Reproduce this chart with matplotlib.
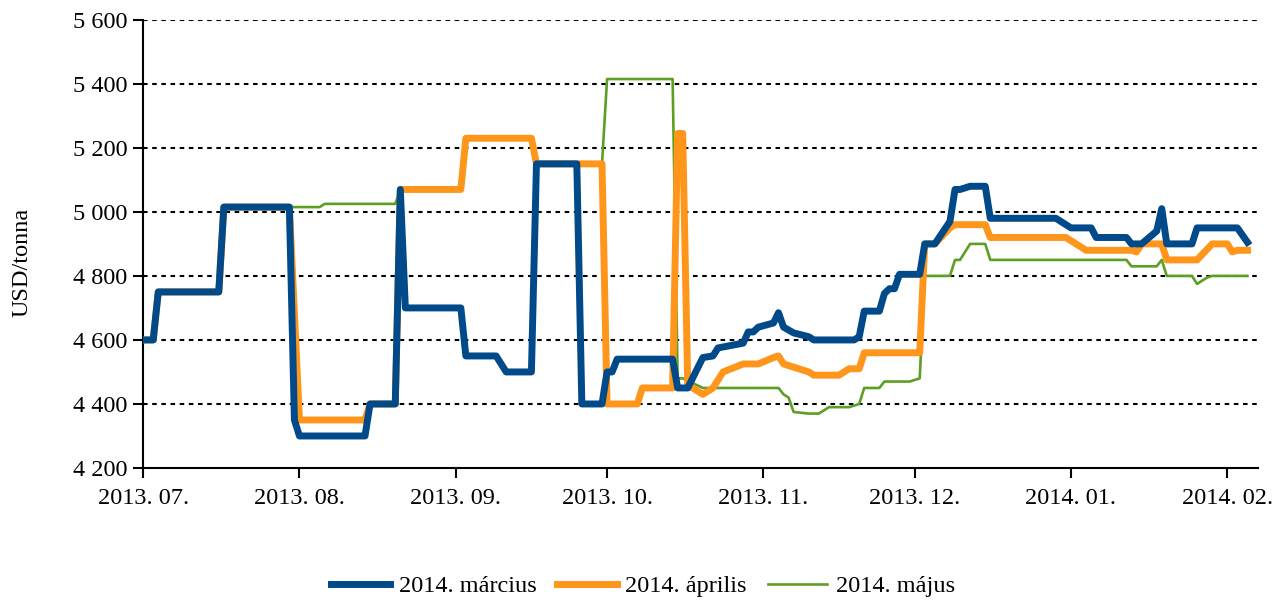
import numpy as np
import pandas as pd
import matplotlib
matplotlib.use("Agg")
import matplotlib.pyplot as plt

# Árfolyamok (USD/tonna) – töréspontok dátum szerint
marc_dates = ["2013-07-01", "2013-07-03", "2013-07-04", "2013-07-16", "2013-07-17", "2013-07-30",
              "2013-07-31", "2013-08-01", "2013-08-14", "2013-08-15", "2013-08-20", "2013-08-21",
              "2013-08-22", "2013-09-02", "2013-09-03", "2013-09-09", "2013-09-11", "2013-09-16",
              "2013-09-17", "2013-09-25", "2013-09-26", "2013-09-30", "2013-10-01", "2013-10-02",
              "2013-10-03", "2013-10-14", "2013-10-15", "2013-10-17", "2013-10-20", "2013-10-22",
              "2013-10-23", "2013-10-28", "2013-10-29", "2013-10-30", "2013-10-31", "2013-11-03",
              "2013-11-04", "2013-11-05", "2013-11-07", "2013-11-10", "2013-11-11", "2013-11-19",
              "2013-11-20", "2013-11-21", "2013-11-24", "2013-11-25", "2013-11-26", "2013-11-27",
              "2013-11-28", "2013-12-02", "2013-12-03", "2013-12-05", "2013-12-08", "2013-12-09",
              "2013-12-10", "2013-12-12", "2013-12-15", "2013-12-16", "2013-12-29", "2014-01-01",
              "2014-01-05", "2014-01-06", "2014-01-12", "2014-01-13", "2014-01-15", "2014-01-18",
              "2014-01-19", "2014-01-20", "2014-01-25", "2014-01-26", "2014-02-03", "2014-02-05"]
marc_vals = [4600, 4600, 4750, 4750, 5015, 5015,
             4350, 4300, 4300, 4400, 4400, 5070,
             4700, 4700, 4550, 4550, 4500, 4500,
             5150, 5150, 4400, 4400, 4500, 4500,
             4540, 4540, 4450, 4450, 4545, 4550,
             4575, 4590, 4625, 4625, 4640, 4653,
             4685, 4640, 4622, 4610, 4600, 4600,
             4610, 4690, 4690, 4745, 4760, 4760,
             4805, 4805, 4900, 4900, 4970, 5070,
             5070, 5080, 5080, 4980, 4980, 4950,
             4950, 4920, 4920, 4900, 4900, 4940,
             5010, 4900, 4900, 4950, 4950, 4905]

apr_dates = ["2013-07-01", "2013-07-03", "2013-07-04", "2013-07-16", "2013-07-17", "2013-07-30",
             "2013-08-01", "2013-08-14", "2013-08-15", "2013-08-20", "2013-08-21", "2013-09-02",
             "2013-09-03", "2013-09-16", "2013-09-17", "2013-09-30", "2013-10-01", "2013-10-07",
             "2013-10-08", "2013-10-14", "2013-10-15", "2013-10-16", "2013-10-17", "2013-10-20",
             "2013-10-22", "2013-10-24", "2013-10-28", "2013-10-31", "2013-11-03", "2013-11-04",
             "2013-11-05", "2013-11-06", "2013-11-10", "2013-11-11", "2013-11-16", "2013-11-18",
             "2013-11-20", "2013-11-21", "2013-12-02", "2013-12-03", "2013-12-05", "2013-12-08",
             "2013-12-09", "2013-12-15", "2013-12-16", "2013-12-31", "2014-01-04", "2014-01-13",
             "2014-01-14", "2014-01-15", "2014-01-19", "2014-01-20", "2014-01-26", "2014-01-29",
             "2014-02-01", "2014-02-02", "2014-02-03", "2014-02-05"]
apr_vals = [4600, 4600, 4750, 4750, 5015, 5015,
            4350, 4350, 4400, 4400, 5070, 5070,
            5230, 5230, 5150, 5150, 4400, 4400,
            4450, 4450, 5245, 5245, 4460, 4430,
            4450, 4500, 4525, 4525, 4545, 4550,
            4525, 4520, 4500, 4490, 4490, 4510,
            4510, 4560, 4560, 4900, 4900, 4950,
            4960, 4960, 4920, 4920, 4880, 4880,
            4875, 4900, 4900, 4850, 4850, 4900,
            4900, 4875, 4880, 4880]

maj_dates = ["2013-07-01", "2013-07-03", "2013-07-04", "2013-07-16", "2013-07-17", "2013-08-05",
             "2013-08-06", "2013-08-20", "2013-08-21", "2013-09-02", "2013-09-03", "2013-09-16",
             "2013-09-17", "2013-09-30", "2013-10-01", "2013-10-14", "2013-10-15", "2013-10-16",
             "2013-10-18", "2013-10-20", "2013-11-04", "2013-11-05", "2013-11-06", "2013-11-07",
             "2013-11-10", "2013-11-12", "2013-11-14", "2013-11-18", "2013-11-20", "2013-11-21",
             "2013-11-24", "2013-11-25", "2013-11-30", "2013-12-02", "2013-12-03", "2013-12-08",
             "2013-12-09", "2013-12-10", "2013-12-12", "2013-12-15", "2013-12-16", "2014-01-12",
             "2014-01-13", "2014-01-18", "2014-01-19", "2014-01-20", "2014-01-25", "2014-01-26",
             "2014-01-28", "2014-01-29", "2014-02-05"]
maj_vals = [4600, 4600, 4750, 4750, 5015, 5015,
            5025, 5025, 5070, 5070, 5230, 5230,
            5150, 5150, 5415, 5415, 4480, 4480,
            4465, 4450, 4450, 4430, 4420, 4375,
            4370, 4370, 4390, 4390, 4400, 4450,
            4450, 4470, 4470, 4480, 4800, 4800,
            4850, 4850, 4900, 4900, 4850, 4850,
            4830, 4830, 4850, 4800, 4800, 4775,
            4795, 4800, 4800]

month_ticks = ["2013-07-01", "2013-08-01", "2013-09-01", "2013-10-01", "2013-11-01",
               "2013-12-01", "2014-01-01", "2014-02-01"]
month_labels = ["2013. 07.", "2013. 08.", "2013. 09.", "2013. 10.", "2013. 11.",
                "2013. 12.", "2014. 01.", "2014. 02."]

plt.rcParams['font.family'] = ['Liberation Serif', 'DejaVu Serif']

fig = plt.figure(figsize=(12.78, 6.0), dpi=100)
ax = fig.add_axes([0.112, 0.22, 0.872, 0.747])

ax.plot(pd.to_datetime(maj_dates), maj_vals, color='#5c9f22', linewidth=1.9,
        label='2014. május', zorder=3)
ax.plot(pd.to_datetime(apr_dates), apr_vals, color='#ff961c', linewidth=5.0,
        label='2014. április', zorder=4)
ax.plot(pd.to_datetime(marc_dates), marc_vals, color='#004a89', linewidth=5.0,
        label='2014. március', zorder=5)

ax.set_ylim(4200, 5600)
ax.set_yticks(np.arange(4200, 5601, 200))
ax.set_yticklabels([f"{v // 1000} {v % 1000:03d}" for v in range(4200, 5601, 200)])
ax.set_xlim(pd.Timestamp("2013-07-01"), pd.Timestamp("2014-02-07"))
ax.set_xticks(pd.to_datetime(month_ticks))
ax.set_xticklabels(month_labels)

for v in range(4400, 5601, 200):
    ax.axhline(v, color='black', linewidth=1.5, linestyle=(0, (2.2, 2.2)), zorder=1)

ax.spines['top'].set_visible(False)
ax.spines['right'].set_visible(False)
ax.spines['left'].set_linewidth(1.5)
ax.spines['bottom'].set_linewidth(1.5)
ax.tick_params(axis='both', labelsize=17.5, width=1.5, length=7.5, direction='out')
ax.tick_params(axis='y', pad=4)
ax.tick_params(axis='x', pad=7)

fig.text(22 / 1278, 1 - 262 / 600, "USD/tonna", rotation=90, ha='center', va='center',
         fontsize=17.5)

handles, labels = ax.get_legend_handles_labels()
order = [2, 1, 0]
fig.legend([handles[i] for i in order], [labels[i] for i in order],
           loc='center', bbox_to_anchor=(0.503, 0.023), ncol=3, frameon=False,
           fontsize=17.5, handlelength=2.45, columnspacing=0.85, handletextpad=0.35,
           borderpad=0.2)

fig.savefig("out.png", dpi=100)
